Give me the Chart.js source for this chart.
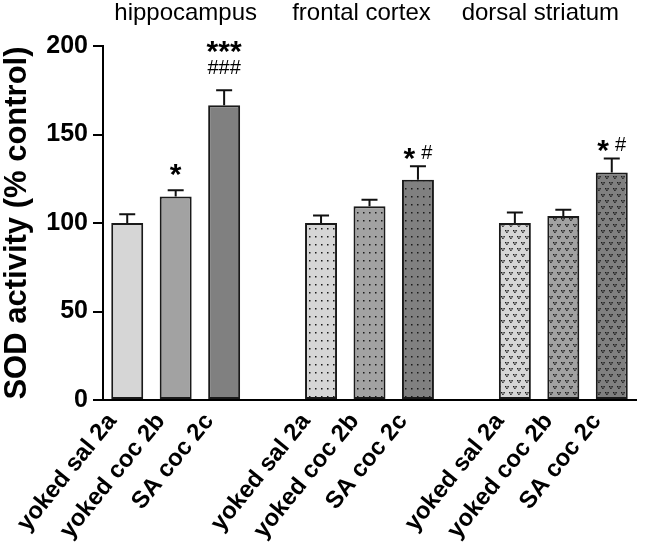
<!DOCTYPE html>
<html>
<head>
<meta charset="utf-8">
<script src="https://cdn.jsdelivr.net/npm/chart.js@4.4.0/dist/chart.umd.min.js"></script>
<style>
html, body { margin: 0; padding: 0; background: #fff; }
</style>
</head>
<body>
<canvas id="myChart" width="661" height="545"></canvas>
<script>
// values (% of control)
const regions = ['hippocampus', 'frontal cortex', 'dorsal striatum']
const groups = ['yoked sal 2a', 'yoked coc 2b', 'SA coc 2c']
const hippocampus = [100, 115, 166.5]
const frontalCortex = [100, 109.5, 124.5]
const dorsalStriatum = [100, 104, 128.5]
const hippocampusErr = [5, 3.5, 8.5]
const frontalCortexErr = [4.3, 3.7, 7.5]
const dorsalStriatumErr = [6, 3.5, 8]
const hippocampusMarks = ['', '*', '***\n###']
const frontalCortexMarks = ['', '', '* #']
const dorsalStriatumMarks = ['', '', '* #']
const yTicks = [0, 50, 100, 150, 200]

const shades = ['#d6d6d6', '#a2a2a2', '#808080']
const FONT = '"Liberation Sans", Arial, sans-serif'

function makePattern(base, kind) {
    if (kind === 'solid') return base
    const c = document.createElement('canvas')
    const g = c.getContext('2d')
    if (kind === 'dots') {
        c.width = 6; c.height = 8
        g.fillStyle = base; g.fillRect(0, 0, 6, 8)
        g.fillStyle = '#1a1a1a'
        g.fillRect(3, 4, 1.5, 1.5)
    } else {
        c.width = 8; c.height = 12
        g.fillStyle = base; g.fillRect(0, 0, 8, 12)
        g.fillStyle = '#1a1a1a'
        const v = (x, y) => {
            g.fillRect(x, y, 1.4, 1.4)
            g.fillRect(x + 2.4, y, 1.4, 1.4)
            g.fillRect(x + 1.2, y + 1.6, 1.4, 1.4)
        }
        v(1, 2); v(5, 8); v(-3, 8)
    }
    return g.createPattern(c, 'repeat')
}

// flatten into 11 slots with an empty slot between regions
const allValues = [hippocampus, frontalCortex, dorsalStriatum]
const allErrs = [hippocampusErr, frontalCortexErr, dorsalStriatumErr]
const allMarks = [hippocampusMarks, frontalCortexMarks, dorsalStriatumMarks]
const kinds = ['solid', 'dots', 'vees']
const labels = [], values = [], errs = [], marks = [], fills = [], regionOf = []
regions.forEach((r, ri) => {
    if (ri > 0) { labels.push(''); values.push(null); errs.push(null); marks.push(''); fills.push('#fff'); regionOf.push(ri) }
    groups.forEach((gname, gi) => {
        labels.push(gname)
        values.push(allValues[ri][gi])
        errs.push(allErrs[ri][gi])
        marks.push(allMarks[ri][gi])
        fills.push(makePattern(shades[gi], kinds[ri]))
        regionOf.push(ri)
    })
})

// draws one line of significance marks, '*' bigger than '#'
function drawMarkLine(ctx, text, cx, cy) {
    const tokens = text.split(' ')
    const fontFor = t => t.includes('*') ? 'bold 30px ' + FONT : '20px ' + FONT
    const gap = 6
    let total = 0
    const widths = tokens.map(t => { ctx.font = fontFor(t); const w = ctx.measureText(t).width; total += w; return w })
    total += gap * (tokens.length - 1)
    let x = cx - total / 2
    tokens.forEach((t, k) => {
        ctx.font = fontFor(t)
        ctx.textAlign = 'left'
        ctx.textBaseline = 'alphabetic'
        const base = t.includes('*') ? cy + 0.55 * 30 : cy + 0.36 * 20
        ctx.fillText(t, x, base)
        x += widths[k] + gap
    })
}

const extras = {
    id: 'extras',
    afterDatasetsDraw(chart, args, opts) {
        const ctx = chart.ctx
        const y = chart.scales.y
        const x = chart.scales.x
        const meta = chart.getDatasetMeta(0)
        ctx.save()
        ctx.strokeStyle = '#111'
        ctx.lineWidth = 2
        ctx.fillStyle = '#000'
        values.forEach((v, i) => {
            if (v == null) return
            const cx = meta.data[i].x
            const yBar = y.getPixelForValue(v)
            const yTop = y.getPixelForValue(v + errs[i])
            ctx.beginPath()
            ctx.moveTo(cx, yBar)
            ctx.lineTo(cx, yTop)
            ctx.moveTo(cx - 8, yTop)
            ctx.lineTo(cx + 8, yTop)
            ctx.stroke()
            if (marks[i]) {
                const lines = marks[i].split('\n')
                const lift = opts.markLift[regionOf[i]]
                lines.forEach((line, li) => {
                    drawMarkLine(ctx, line, cx, yTop - lift - (lines.length - 1 - li) * 23)
                })
            }
        })
        // region titles above each group
        ctx.font = '24px ' + FONT
        ctx.textAlign = 'center'
        ctx.textBaseline = 'alphabetic'
        regions.forEach((r, ri) => {
            const mid = x.getPixelForValue(ri * 4 + 1)
            ctx.fillText(r, mid + opts.titleShift[ri], 20)
        })
        ctx.restore()
    }
}

const ctx = document.getElementById('myChart')
const myChart = new Chart(ctx, {
    type: 'bar',
    data: {
        labels: labels,
        datasets: [{
            data: values,
            backgroundColor: fills,
            borderColor: '#1a1a1a',
            borderWidth: 2,
            borderSkipped: false,
            barPercentage: 0.66,
            categoryPercentage: 1.0,
        }],
    },
    options: {
        responsive: false,
        animation: false,
        devicePixelRatio: 1,
        layout: { padding: { top: 46, right: 25, left: 0, bottom: 0 } },
        plugins: {
            legend: { display: false },
            tooltip: { enabled: false },
            extras: { titleShift: [10, -8, -23], markLift: [23, 15, 15] },
        },
        scales: {
            x: {
                grid: { display: false },
                border: { display: true, color: '#000', width: 2 },
                ticks: {
                    autoSkip: false,
                    maxRotation: 51,
                    minRotation: 51,
                    labelOffset: -15,
                    padding: 0,
                    color: '#000',
                    font: { family: FONT, size: 24, weight: 'bold' },
                },
                afterFit(scale) { scale.height = 145 },
            },
            y: {
                min: 0,
                max: 200,
                afterBuildTicks(scale) { scale.ticks = yTicks.map(v => ({ value: v })) },
                grid: { display: true, drawOnChartArea: false, drawTicks: true, tickLength: 10, color: '#000', lineWidth: 2 },
                border: { display: true, color: '#000', width: 2 },
                ticks: {
                    padding: 5,
                    color: '#000',
                    font: { family: FONT, size: 25, weight: 'bold' },
                },
                title: {
                    display: true,
                    text: 'SOD activity (% control)',
                    color: '#000',
                    padding: { top: 0, bottom: 0 },
                    font: { family: FONT, size: 31, weight: 'bold', lineHeight: 1.1 },
                },
                afterFit(scale) { scale.width = 103 },
            },
        },
    },
    plugins: [extras],
})
</script>
</body>
</html>
